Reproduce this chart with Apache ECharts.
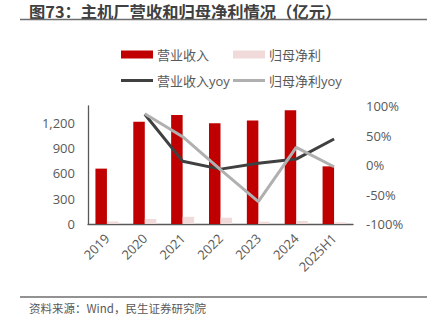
<!DOCTYPE html>
<html><head><meta charset="utf-8">
<script src="https://cdn.jsdelivr.net/npm/echarts@6/dist/echarts.min.js"></script>
<style>html,body{margin:0;padding:0;background:#fff}#c{width:433px;height:324px}</style>
</head><body><div id="c"></div>
<script>
const categories = ['2019','2020','2021','2022','2023','2024','2025H1'];
const revenue = [657, 1212, 1292, 1196, 1229, 1351, 684];
const netProfit = [30, 60, 85, 75, 27, 36, 20];
const revenueYoy = [null, 86, 6.5, -7, 3, 10, 44];
const netProfitYoy = [null, 87, 48, -8, -62, 30, -3];
const leftTicks = [0, 300, 600, 900, 1200];
const rightTicks = [-100, -50, 0, 50, 100];

const FONT = '"Open Sans","Noto Sans CJK SC",sans-serif';
const CJK = '"Noto Sans CJK SC",sans-serif';
const txt = {color:'#595959', fontSize:13, fontFamily: FONT};

const chart = echarts.init(document.getElementById('c'), null, {renderer:'svg'});
function leg(name, left, top, icon, h){
  return {data:[{name, icon}], left, top, itemWidth:32, itemHeight:h, itemGap:0,
    textStyle:Object.assign({}, txt, {padding:[0,0,0,-1]}), selectedMode:false};
}
chart.setOption({
  animation:false,
  graphic:[
    {type:'text', left:29, top:3, style:{text:'图73：主机厂营收和归母净利情况（亿元）', fill:'#404040', font:'bold 16.3px '+CJK}},
    {type:'line', shape:{x1:20,y1:19.5,x2:427,y2:19.5}, style:{stroke:'#6e6e6e', lineWidth:1.5}},
    {type:'line', shape:{x1:20,y1:297,x2:427,y2:297}, style:{stroke:'#6e6e6e', lineWidth:1.5}},
    {type:'text', left:29, top:302, style:{text:'资料来源：Wind，民生证券研究院', fill:'#595959', font:'11.5px '+CJK}}
  ],
  legend:[
    leg('营业收入', 116, 43, 'rect', 8),
    leg('归母净利', 228, 43, 'rect', 8),
    leg('营业收入yoy', 116, 69, 'rect', 3),
    leg('归母净利yoy', 228, 69, 'rect', 3)
  ],
  grid:{left:88, right:80, top:106, bottom:100},
  xAxis:{type:'category', data:categories,
    axisLine:{lineStyle:{color:'#595959', width:1.3}}, axisTick:{show:false},
    axisLabel:Object.assign({}, txt, {rotate:45, margin:12, interval:0})},
  yAxis:[
    {type:'value', min:0, max:1400, interval:300,
     axisLine:{show:true, lineStyle:{color:'#595959', width:1.3}}, axisTick:{show:false}, splitLine:{show:false},
     axisLabel:Object.assign({}, txt, {margin:13, showMaxLabel:false,
       formatter:v => leftTicks.includes(v) ? v.toLocaleString('en-US') : ''})},
    {type:'value', min:-100, max:100, interval:50,
     axisLine:{show:false}, axisTick:{show:false}, splitLine:{show:false},
     axisLabel:Object.assign({}, txt, {margin:13, formatter:v => rightTicks.includes(v) ? v+'%' : ''})}
  ],
  series:[
    {name:'营业收入', type:'bar', data:revenue, barWidth:11.5, barGap:'0%', itemStyle:{color:'#C00000'}},
    {name:'归母净利', type:'bar', data:netProfit, barWidth:11.5, barGap:'0%', itemStyle:{color:'#F0DADA'}},
    {name:'营业收入yoy', type:'line', yAxisIndex:1, data:revenueYoy, showSymbol:false, symbol:'none',
     lineStyle:{color:'#404040', width:3}, itemStyle:{color:'#404040'}},
    {name:'归母净利yoy', type:'line', yAxisIndex:1, data:netProfitYoy, showSymbol:false, symbol:'none',
     lineStyle:{color:'#B0B0B0', width:3}, itemStyle:{color:'#B0B0B0'}}
  ]
});
</script></body></html>
